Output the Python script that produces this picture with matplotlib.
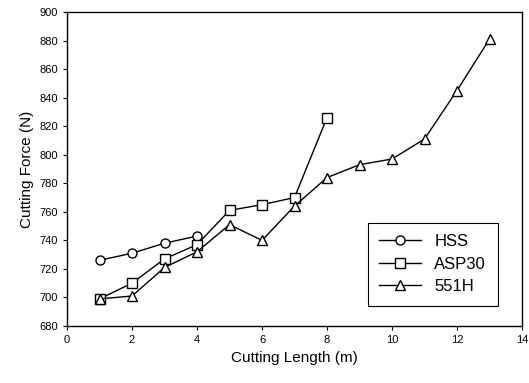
import matplotlib
matplotlib.use("Agg")
import matplotlib.pyplot as plt

x_hss = [1, 2, 3, 4]
hss = [726, 731, 738, 743]
x_asp = [1, 2, 3, 4, 5, 6, 7, 8]
asp30 = [699, 710, 727, 737, 761, 765, 770, 826]
x_551 = [1, 2, 3, 4, 5, 6, 7, 8, 9, 10, 11, 12, 13]
h551 = [699, 701, 721, 732, 751, 740, 764, 784, 793, 797, 811, 845, 881]

plt.rcParams["font.family"] = ["Liberation Sans", "DejaVu Sans"]

fig = plt.figure(figsize=(5.29, 3.83), dpi=100)
ax = fig.add_axes([67 / 529, 1 - 326 / 383, (522 - 67) / 529, (326 - 12) / 383])

style = dict(color="black", lw=1.0, ms=6.5, mfc="white", mec="black", mew=1.0)
ax.plot(x_hss, hss, marker="o", label="HSS", **style)
ax.plot(x_asp, asp30, marker="s", label="ASP30", **style)
ax.plot(x_551, h551, marker="^", label="551H", **style)

ax.set_xlim(0, 14)
ax.set_ylim(680, 900)
ax.set_xticks(range(0, 15, 2))
ax.set_yticks(range(680, 901, 20))
ax.tick_params(labelsize=8, length=3, width=0.8)
ax.set_xlabel("Cutting Length (m)", fontsize=11)
ax.set_ylabel("Cutting Force (N)", fontsize=11)
for s in ax.spines.values():
    s.set_linewidth(1.0)

leg = ax.legend(loc="lower right", bbox_to_anchor=(0.947, 0.064), fontsize=12,
                fancybox=False, framealpha=1, edgecolor="black",
                handlelength=2.5, borderpad=0.7, labelspacing=0.45,
                borderaxespad=0)
leg.get_frame().set_linewidth(0.8)

fig.savefig("out.png", dpi=100)
